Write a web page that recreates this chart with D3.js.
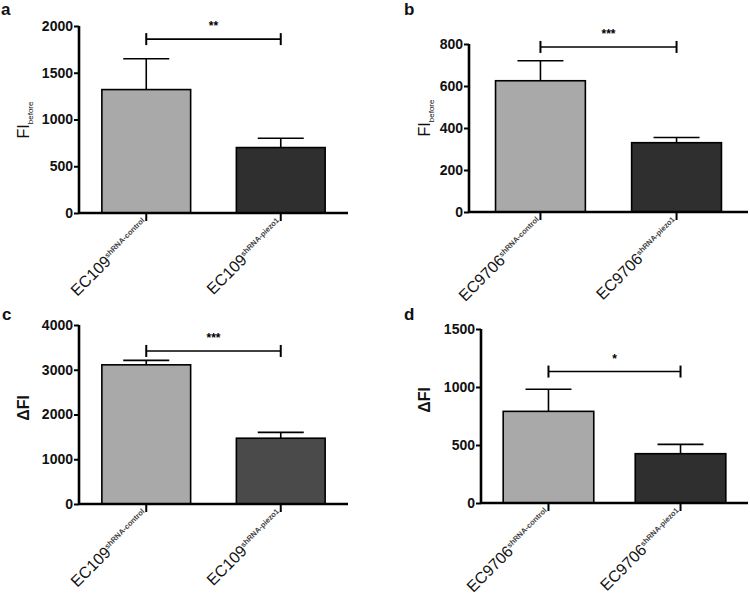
<!DOCTYPE html>
<html>
<head>
<meta charset="utf-8">
<script src="https://cdn.jsdelivr.net/npm/d3@7"></script>
<style>
  body { margin: 0; background: #fff; }
  svg { font-family: "Liberation Sans", Arial, sans-serif; }
  .tick text { font-size: 14px; font-weight: bold; fill: #111; }
</style>
</head>
<body>
<svg id="fig" width="750" height="594"></svg>
<script>
// --- données ---
const groupsEC109 = ["EC109", "EC109"];
const groupsEC9706 = ["EC9706", "EC9706"];
const conditions = ["shRNA-control", "shRNA-piezo1"];

const meansA = [1320, 700];
const semA = [330, 100];
const ticksA = [0, 500, 1000, 1500, 2000];

const meansB = [625, 330];
const semB = [95, 25];
const ticksB = [0, 200, 400, 600, 800];

const meansC = [3110, 1470];
const semC = [100, 130];
const ticksC = [0, 1000, 2000, 3000, 4000];

const meansD = [790, 425];
const semD = [190, 80];
const ticksD = [0, 500, 1000, 1500];

const sigLabels = ["**", "***", "***", "*"];
const sigLevels = [1860, 786, 3420, 1133];

// --- mise en page de chaque panneau ---
const panels = [
  { letter: "a", groups: groupsEC109, means: meansA, sem: semA, ticks: ticksA, ylab: "FI", ysub: "before",
    x0: 79, x1: 348, top: 26, bottom: 213, pIn: 0.34, pOut: 0.17, colors: ["#a9a9a9", "#2f2f2f"],
    lx: 1, ly: 15, yx: 29, yy: 120 },
  { letter: "b", groups: groupsEC9706, means: meansB, sem: semB, ticks: ticksB, ylab: "FI", ysub: "before",
    x0: 469, x1: 748, top: 44, bottom: 212, pIn: 0.34, pOut: 0.195, colors: ["#a9a9a9", "#2f2f2f"],
    lx: 404, ly: 15, yx: 430, yy: 118 },
  { letter: "c", groups: groupsEC109, means: meansC, sem: semC, ticks: ticksC, ylab: "ΔFI", ysub: "",
    x0: 79, x1: 348, top: 325, bottom: 504, pIn: 0.34, pOut: 0.17, colors: ["#a9a9a9", "#4a4a4a"],
    lx: 2, ly: 320, yx: 29, yy: 408 },
  { letter: "d", groups: groupsEC9706, means: meansD, sem: semD, ticks: ticksD, ylab: "ΔFI", ysub: "",
    x0: 481, x1: 748, top: 329, bottom: 503, pIn: 0.314, pOut: 0.168, colors: ["#a9a9a9", "#2f2f2f"],
    lx: 404, ly: 320, yx: 430, yy: 400 }
];

const svg = d3.select("#fig");

panels.forEach((p, i) => {
  const g = svg.append("g");
  const ids = [0, 1];

  const x = d3.scaleBand().domain(ids).range([p.x0, p.x1])
    .paddingInner(p.pIn).paddingOuter(p.pOut);
  const y = d3.scaleLinear().domain([0, d3.max(p.ticks)]).range([p.bottom, p.top]);

  // barres
  g.selectAll("rect.bar").data(ids).enter().append("rect")
    .attr("x", d => x(d)).attr("width", x.bandwidth())
    .attr("y", d => y(p.means[d])).attr("height", d => y(0) - y(p.means[d]))
    .attr("fill", d => p.colors[d]).attr("stroke", "#000").attr("stroke-width", 1.6);

  // barres d'erreur (au-dessus seulement)
  const cx = d => x(d) + x.bandwidth() / 2;
  g.selectAll("line.err").data(ids).enter().append("line")
    .attr("x1", cx).attr("x2", cx)
    .attr("y1", d => y(p.means[d])).attr("y2", d => y(p.means[d] + p.sem[d]))
    .attr("stroke", "#000").attr("stroke-width", 1.6);
  g.selectAll("line.cap").data(ids).enter().append("line")
    .attr("x1", d => cx(d) - 23).attr("x2", d => cx(d) + 23)
    .attr("y1", d => y(p.means[d] + p.sem[d])).attr("y2", d => y(p.means[d] + p.sem[d]))
    .attr("stroke", "#000").attr("stroke-width", 1.6);

  // axe Y
  const yAxis = g.append("g").attr("transform", `translate(${p.x0},0)`)
    .call(d3.axisLeft(y).tickValues(p.ticks).tickSize(5).tickPadding(1).tickFormat(d3.format("d")));
  yAxis.select(".domain").attr("stroke-width", 2.6).attr("d", `M0,${p.bottom}V${p.top}`);
  yAxis.selectAll(".tick line").attr("stroke-width", 2);

  // axe X
  const xAxis = g.append("g").attr("transform", `translate(0,${p.bottom})`)
    .call(d3.axisBottom(x).tickSize(8).tickFormat(""));
  xAxis.select(".domain").attr("stroke-width", 2.6).attr("d", `M${p.x0},0H${p.x1}`);
  xAxis.selectAll(".tick line").attr("stroke-width", 2);

  // étiquettes X inclinées
  g.selectAll("text.xlab").data(ids).enter().append("text")
    .attr("transform", d => `translate(${cx(d) + 3},${p.bottom + 12}) rotate(-45)`)
    .attr("text-anchor", "end").attr("fill", "#111")
    .each(function (d) {
      const t = d3.select(this);
      t.append("tspan").attr("font-size", 16).text(p.groups[d]);
      t.append("tspan").attr("font-size", 7.5).attr("font-weight", "bold").attr("fill", "#444")
        .attr("dy", -6).text(conditions[d]);
    });

  // titre de l'axe Y
  const yl = g.append("text")
    .attr("transform", `translate(${p.yx},${p.yy}) rotate(-90)`)
    .attr("text-anchor", "middle").attr("fill", "#111");
  yl.append("tspan").attr("font-size", 16).attr("font-weight", p.ysub ? "normal" : "bold").text(p.ylab);
  if (p.ysub) yl.append("tspan").attr("font-size", 8).attr("dy", 4).text(p.ysub);

  // crochet de significativité
  const sy = y(sigLevels[i]);
  const sx1 = cx(0), sx2 = cx(1);
  g.append("line").attr("x1", sx1).attr("x2", sx2).attr("y1", sy).attr("y2", sy)
    .attr("stroke", "#000").attr("stroke-width", 1.6);
  [sx1, sx2].forEach(v => g.append("line").attr("x1", v).attr("x2", v)
    .attr("y1", sy - 6).attr("y2", sy + 6).attr("stroke", "#000").attr("stroke-width", 2));
  g.append("text").attr("x", (sx1 + sx2) / 2).attr("y", sy - 9)
    .attr("text-anchor", "middle").attr("font-size", 12).attr("font-weight", "bold")
    .text(sigLabels[i]);

  // lettre du panneau
  g.append("text").attr("x", p.lx).attr("y", p.ly)
    .attr("font-size", 17).attr("font-weight", "bold").attr("fill", "#111").text(p.letter);
});
</script>
</body>
</html>
